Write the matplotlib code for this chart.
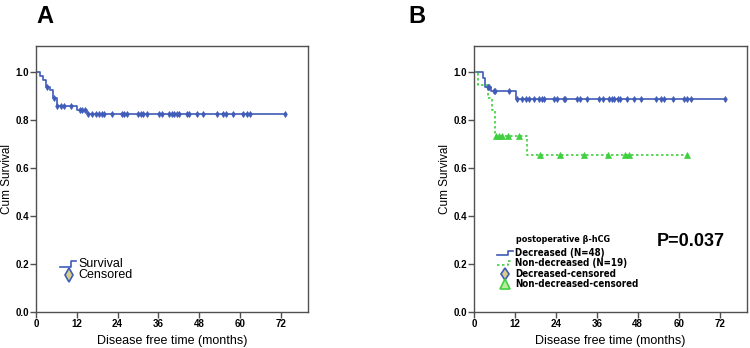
import numpy as np
import matplotlib.pyplot as plt

# ---- data ----
# panel A: all patients
a_event_t = [0, 1.2, 2.2, 2.9, 4.1, 4.9, 6.1, 12.0, 14.9]
a_event_s = [1.0, 0.985, 0.970, 0.940, 0.925, 0.895, 0.862, 0.845, 0.826]
a_cens_t = [3.3, 5.3, 6.3, 7.3, 8.2, 10.2, 12.9, 13.6, 14.4, 15.4, 16.6, 17.6, 18.5,
            19.3, 20.0, 22.3, 25.2, 25.9, 26.7, 30.1, 30.8, 31.6, 32.6, 36.3, 37.0,
            39.2, 39.9, 40.6, 41.4, 42.1, 44.3, 45.1, 47.3, 49.2, 53.1, 54.9, 55.9,
            58.0, 61.0, 62.0, 62.9, 73.2]
a_end = 73.2

# panel B: decreased (N=48)
dec_event_t = [0, 2.5, 3.3, 5.0, 12.2]
dec_event_s = [1.0, 0.978, 0.939, 0.922, 0.890]
dec_cens_t = [4.1, 4.5, 5.8, 6.3, 10.2, 12.7, 14.2, 15.2, 16.2, 17.6, 19.1, 20.0, 20.6,
              23.4, 24.4, 26.3, 26.8, 30.3, 31.1, 33.2, 36.7, 37.7, 39.6, 40.4, 41.1,
              42.1, 42.8, 44.8, 47.0, 49.0, 53.4, 54.9, 55.8, 58.3, 61.6, 62.5, 63.5, 73.5]
dec_end = 73.5

# panel B: non-decreased (N=19)
non_event_t = [0, 1.1, 4.2, 5.2, 6.2, 15.5]
non_event_s = [1.0, 0.947, 0.895, 0.842, 0.737, 0.655]
non_cens_t = [6.4, 7.2, 8.2, 10.1, 13.1, 19.2, 25.2, 32.3, 39.4, 44.3, 45.3, 62.5]
non_end = 62.5

BLUE = '#3f5cb8'
GREEN = '#3fd03f'
SPINE = '#505050'
NARROW = dict(family='DejaVu Sans', fontstretch='condensed', fontweight='bold')


def km_step(ax, t, s, end, **kw):
    tt = list(t) + [end]
    ss = list(s) + [s[-1]]
    ax.step(tt, ss, where='post', **kw)


def surv_at(t, s, x):
    idx = np.searchsorted(t, x, side='right') - 1
    return np.array(s)[idx]


def style_axes(ax):
    ax.set_xlim(0, 80)
    ax.set_ylim(0, 1.11)
    ax.set_xticks([0, 12, 24, 36, 48, 60, 72])
    ax.set_yticks([0.0, 0.2, 0.4, 0.6, 0.8, 1.0])
    ax.set_yticklabels(['0.0', '0.2', '0.4', '0.6', '0.8', '1.0'])
    for sp in ax.spines.values():
        sp.set_color(SPINE)
        sp.set_linewidth(1.0)
    ax.tick_params(direction='out', length=4, width=1, color=SPINE, pad=1)
    for lab in ax.get_xticklabels() + ax.get_yticklabels():
        lab.set_fontfamily('Liberation Sans')
        lab.set_fontweight('bold')
        lab.set_fontsize(7)
    ax.set_xlabel('Disease free time (months)', fontsize=9, family='Liberation Sans',
                  labelpad=4)
    ax.set_ylabel('Cum Survival', fontsize=8.5, family='Liberation Sans', labelpad=2)


fig = plt.figure(figsize=(7.5, 3.48), dpi=100)
axA = fig.add_axes([0.048, 0.1026, 0.3627, 0.765])
axB = fig.add_axes([0.632, 0.1026, 0.364, 0.765])

# ---- panel A ----
km_step(axA, a_event_t, a_event_s, a_end, color=BLUE, lw=1.2)
axA.plot(a_cens_t, surv_at(a_event_t, a_event_s, a_cens_t), ls='none', marker='d',
         ms=3, mfc=BLUE, mec=BLUE, mew=0.6)
style_axes(axA)

# legend A
axA.plot([0.088, 0.128, 0.128, 0.147], [0.171, 0.171, 0.194, 0.194],
         transform=axA.transAxes, color=BLUE, lw=1.2)
axA.plot([0.12], [0.14], transform=axA.transAxes, marker='d', ms=7,
         mfc='#d8d08a', mec=BLUE, mew=1.2, ls='none')
axA.text(0.155, 0.181, 'Survival', transform=axA.transAxes, fontsize=9,
         family='Liberation Sans', va='center')
axA.text(0.155, 0.14, 'Censored', transform=axA.transAxes, fontsize=9,
         family='Liberation Sans', va='center')

# ---- panel B ----
km_step(axB, dec_event_t, dec_event_s, dec_end, color=BLUE, lw=1.2)
km_step(axB, non_event_t, non_event_s, non_end, color=GREEN, lw=1.2, ls=(0, (1.5, 1.5)))
axB.plot(dec_cens_t, surv_at(dec_event_t, dec_event_s, dec_cens_t), ls='none',
         marker='d', ms=3, mfc=BLUE, mec=BLUE, mew=0.6)
axB.plot(non_cens_t, surv_at(non_event_t, non_event_s, non_cens_t), ls='none',
         marker='^', ms=4, mfc=GREEN, mec=GREEN, mew=0.5)
style_axes(axB)

# legend B
tx = 0.152
axB.text(tx + 0.003, 0.273, 'postoperative β-hCG', transform=axB.transAxes,
         fontsize=6.5, va='center', **NARROW)
rows = [0.223, 0.185, 0.144, 0.107]
labels = ['Decreased (N=48)', 'Non-decreased (N=19)', 'Decreased-censored',
          'Non-decreased-censored']
for y, lab in zip(rows, labels):
    axB.text(tx, y, lab, transform=axB.transAxes, fontsize=7, va='center', **NARROW)
axB.plot([0.084, 0.126, 0.126, 0.143], [0.214, 0.214, 0.232, 0.232],
         transform=axB.transAxes, color=BLUE, lw=1.2)
axB.plot([0.084, 0.126, 0.126, 0.143], [0.176, 0.176, 0.194, 0.194],
         transform=axB.transAxes, color=GREEN, lw=1.2, ls=(0, (1.5, 1.5)))
axB.plot([0.112], [0.144], transform=axB.transAxes, marker='d', ms=6,
         mfc='#d8d08a', mec=BLUE, mew=1.2, ls='none')
axB.plot([0.112], [0.107], transform=axB.transAxes, marker='^', ms=7,
         mfc='#bfe8a0', mec=GREEN, mew=1.2, ls='none')

axB.text(0.795, 0.265, 'P=0.037', transform=axB.transAxes, fontsize=13,
         family='Liberation Sans', fontweight='bold', ha='center', va='center')

# panel letters
fig.text(0.048, 0.985, 'A', fontsize=17, fontweight='bold', family='Liberation Sans',
         va='top', ha='left')
fig.text(0.544, 0.985, 'B', fontsize=17, fontweight='bold', family='Liberation Sans',
         va='top', ha='left')

fig.savefig('out.png', dpi=100)
